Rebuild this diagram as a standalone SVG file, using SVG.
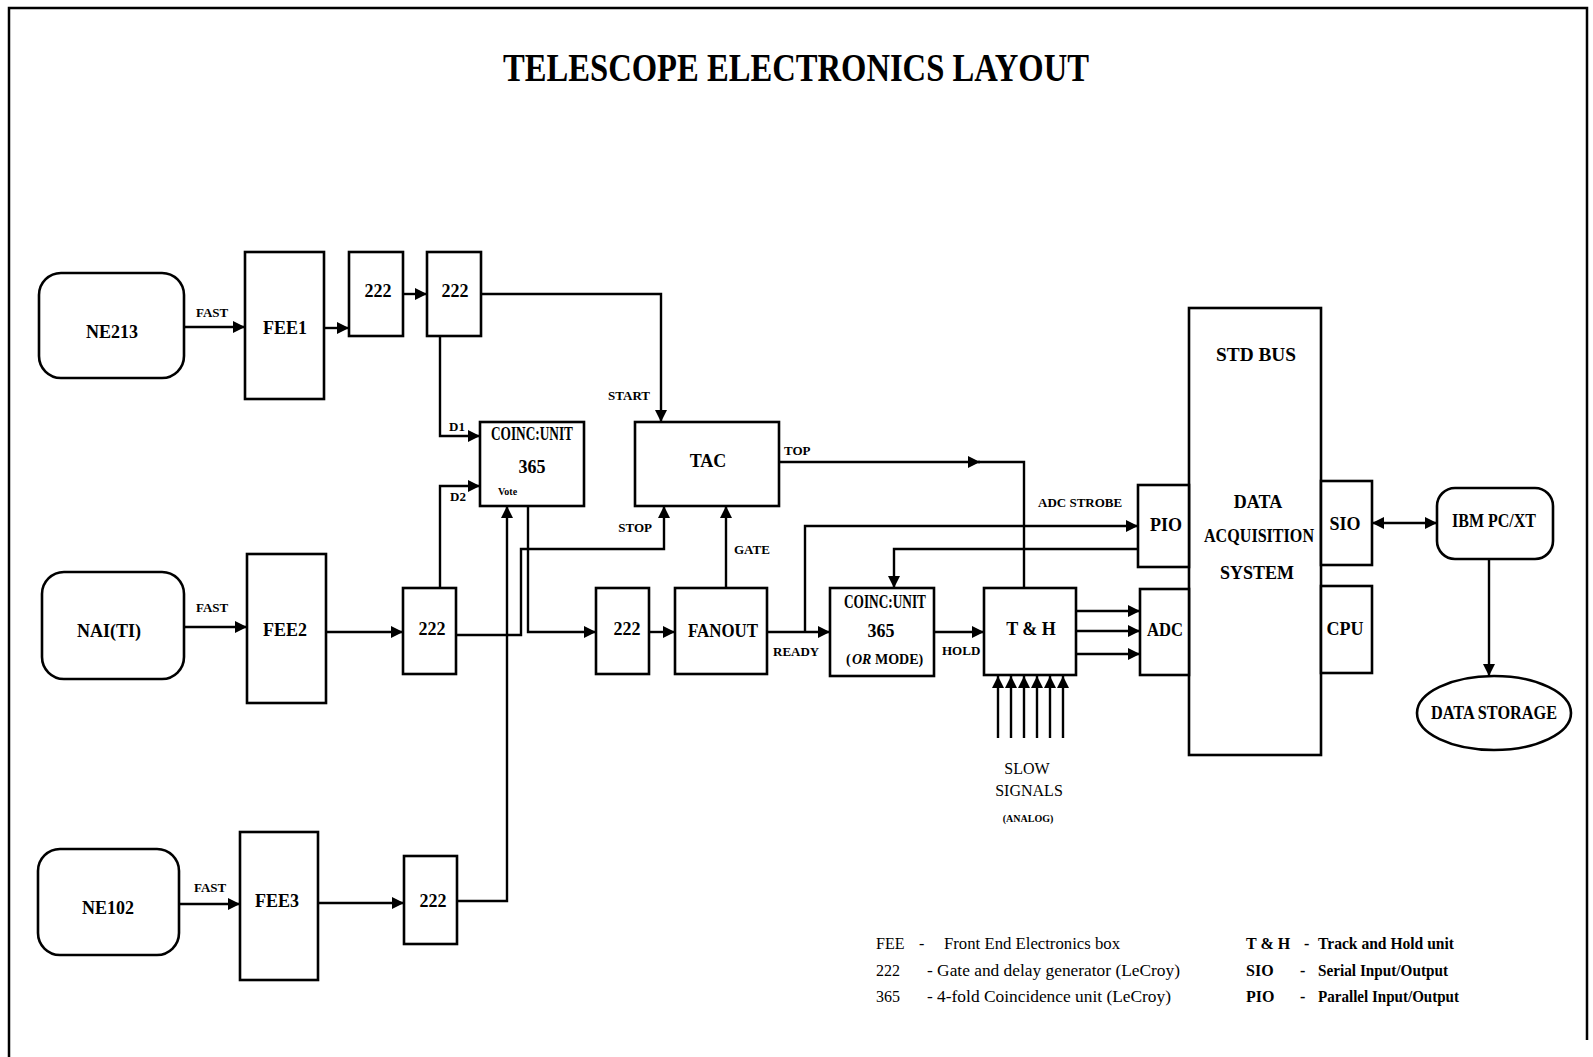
<svg xmlns="http://www.w3.org/2000/svg" width="1593" height="1057" viewBox="0 0 1593 1057">
<defs>
<marker id="arr" markerUnits="userSpaceOnUse" markerWidth="13" markerHeight="12" refX="12" refY="6" orient="auto-start-reverse">
<path d="M0,0 L12,6 L0,12 z" fill="#000"/>
</marker>
</defs>
<style>
.box{fill:#fff;stroke:#000;stroke-width:2.6}
.ln{fill:none;stroke:#000;stroke-width:2.4}
.a{marker-end:url(#arr)}
text{font-family:"Liberation Serif","Times New Roman",serif;fill:#000}
.n{font-size:18px;font-weight:bold;text-anchor:middle}
.s{font-size:13px;font-weight:bold}
.c{text-anchor:middle}
.lg{font-size:16px}
.lgb{font-size:16px;font-weight:bold}
</style>
<rect x="0" y="0" width="1593" height="1057" fill="#fff"/>
<g id="frame" class="ln">
<path d="M9,1057 L9,8 L1587,8 L1587,1040" style="stroke-width:2.5"/>
</g>
<text x="796" y="81" font-size="40" font-weight="bold" class="c" textLength="586" lengthAdjust="spacingAndGlyphs">TELESCOPE ELECTRONICS LAYOUT</text>

<g id="connectors">
<line class="ln a" x1="184" y1="327" x2="245" y2="327"/>
<line class="ln a" x1="324" y1="328" x2="349" y2="328"/>
<line class="ln a" x1="403" y1="294" x2="427" y2="294"/>
<path class="ln a" d="M481,294 L661,294 L661,422"/>
<path class="ln a" d="M440,336 L440,436 L480,436"/>
<line class="ln a" x1="184" y1="627" x2="247" y2="627"/>
<line class="ln a" x1="326" y1="632" x2="403" y2="632"/>
<path class="ln a" d="M440,588 L440,486 L480,486"/>
<path class="ln a" d="M456,635 L521,635 L521,549 L664,549 L664,506"/>
<line class="ln a" x1="179" y1="904" x2="240" y2="904"/>
<line class="ln a" x1="318" y1="903" x2="404" y2="903"/>
<path class="ln a" d="M457,901 L507,901 L507,506"/>
<path class="ln a" d="M528,506 L528,632 L596,632"/>
<line class="ln a" x1="649" y1="632" x2="675" y2="632"/>
<line class="ln a" x1="726" y1="588" x2="726" y2="506"/>
<line class="ln a" x1="767" y1="632" x2="830" y2="632"/>
<path class="ln a" d="M805,632 L805,526 L1138,526"/>
<path class="ln a" d="M1138,549 L894,549 L894,588"/>
<line class="ln a" x1="934" y1="632" x2="984" y2="632"/>
<line class="ln a" x1="779" y1="462" x2="980" y2="462"/>
<path class="ln" d="M978,462 L1024,462 L1024,588"/>
<line class="ln a" x1="1076" y1="611" x2="1140" y2="611"/>
<line class="ln a" x1="1076" y1="631" x2="1140" y2="631"/>
<line class="ln a" x1="1076" y1="654" x2="1140" y2="654"/>
<line class="ln a" x1="998" y1="738" x2="998" y2="676"/>
<line class="ln a" x1="1011" y1="738" x2="1011" y2="676"/>
<line class="ln a" x1="1024" y1="738" x2="1024" y2="676"/>
<line class="ln a" x1="1037" y1="738" x2="1037" y2="676"/>
<line class="ln a" x1="1050" y1="738" x2="1050" y2="676"/>
<line class="ln a" x1="1063" y1="738" x2="1063" y2="676"/>
<line class="ln" x1="1372" y1="523" x2="1437" y2="523" marker-start="url(#arr)" marker-end="url(#arr)"/>
<line class="ln a" x1="1489" y1="559" x2="1489" y2="676"/>
</g>

<g id="labels">
<text class="s" x="196" y="317">FAST</text>
<text class="s" x="196" y="612">FAST</text>
<text class="s" x="194" y="892">FAST</text>
<text class="s" x="650" y="400" text-anchor="end">START</text>
<text class="s" x="449" y="431">D1</text>
<text class="s" x="450" y="501">D2</text>
<text class="s" x="652" y="532" text-anchor="end">STOP</text>
<text class="s" x="734" y="554">GATE</text>
<text class="s" x="784" y="455">TOP</text>
<text class="s" x="773" y="656">READY</text>
<text class="s" x="942" y="655">HOLD</text>
<text class="s" x="1038" y="507">ADC STROBE</text>
<text x="1027" y="774" font-size="16" class="c">SLOW</text>
<text x="1029" y="796" font-size="16" class="c">SIGNALS</text>
<text x="1028" y="822" font-size="10" font-weight="bold" class="c">(ANALOG)</text>
</g>

<g id="ne213"><rect class="box" x="39" y="273" width="145" height="105" rx="22"/><text class="n" x="112" y="338" font-size="20">NE213</text></g>
<g id="fee1"><rect class="box" x="245" y="252" width="79" height="147"/><text class="n" x="285" y="334" font-size="16">FEE1</text></g>
<g id="d222a"><rect class="box" x="349" y="252" width="54" height="84"/><text class="n" x="378" y="297">222</text></g>
<g id="d222b"><rect class="box" x="427" y="252" width="54" height="84"/><text class="n" x="455" y="297">222</text></g>
<g id="coinc1"><rect class="box" x="480" y="422" width="104" height="84"/><text class="n" x="532" y="440" font-size="13" textLength="82" lengthAdjust="spacingAndGlyphs">COINC:UNIT</text><text class="n" x="532" y="473" font-size="17">365</text><text x="498" y="495" font-size="10" font-weight="bold">Vote</text></g>
<g id="tac"><rect class="box" x="635" y="422" width="144" height="84"/><text class="n" x="708" y="467" font-size="17">TAC</text></g>
<g id="nai"><rect class="box" x="42" y="572" width="142" height="107" rx="22"/><text class="n" x="109" y="637" font-size="20">NAI(TI)</text></g>
<g id="fee2"><rect class="box" x="247" y="554" width="79" height="149"/><text class="n" x="285" y="636" font-size="16">FEE2</text></g>
<g id="d222c"><rect class="box" x="403" y="588" width="53" height="86"/><text class="n" x="432" y="635">222</text></g>
<g id="d222d"><rect class="box" x="596" y="588" width="53" height="86"/><text class="n" x="627" y="635">222</text></g>
<g id="fanout"><rect class="box" x="675" y="588" width="92" height="86"/><text class="n" x="723" y="637" font-size="17" textLength="70" lengthAdjust="spacingAndGlyphs">FANOUT</text></g>
<g id="coinc2"><rect class="box" x="830" y="588" width="104" height="88"/><text class="n" x="885" y="608" font-size="13" textLength="82" lengthAdjust="spacingAndGlyphs">COINC:UNIT</text><text class="n" x="881" y="637" font-size="17">365</text><text x="846" y="664" font-size="14" font-weight="bold">(</text><text x="852" y="664" font-size="14" font-weight="bold" font-style="italic">OR</text><text x="875" y="664" font-size="14" font-weight="bold">MODE)</text></g>
<g id="th"><rect class="box" x="984" y="588" width="92" height="87"/><text class="n" x="1031" y="635" font-size="17">T &amp; H</text></g>
<g id="std"><rect class="box" x="1189" y="308" width="132" height="447"/><text class="n" x="1256" y="361" font-size="19" textLength="80" lengthAdjust="spacingAndGlyphs">STD BUS</text><text class="n" x="1258" y="508" font-size="16">DATA</text><text class="n" x="1259" y="542" font-size="16" textLength="110" lengthAdjust="spacingAndGlyphs">ACQUISITION</text><text class="n" x="1257" y="579" font-size="16">SYSTEM</text></g>
<g id="pio"><rect class="box" x="1138" y="485" width="51" height="82"/><text class="n" x="1166" y="531" font-size="16">PIO</text></g>
<g id="adc"><rect class="box" x="1140" y="589" width="49" height="86"/><text class="n" x="1165" y="636" font-size="16" textLength="36" lengthAdjust="spacingAndGlyphs">ADC</text></g>
<g id="sio"><rect class="box" x="1321" y="481" width="51" height="84"/><text class="n" x="1345" y="530" font-size="16">SIO</text></g>
<g id="cpu"><rect class="box" x="1321" y="586" width="51" height="87"/><text class="n" x="1345" y="635" font-size="16">CPU</text></g>
<g id="ibm"><rect class="box" x="1437" y="488" width="116" height="71" rx="18"/><text class="n" x="1494" y="527" font-size="16" textLength="84" lengthAdjust="spacingAndGlyphs">IBM PC/XT</text></g>
<g id="storage"><ellipse class="box" cx="1494" cy="713" rx="77" ry="37"/><text class="n" x="1494" y="719" font-size="16" textLength="126" lengthAdjust="spacingAndGlyphs">DATA STORAGE</text></g>
<g id="ne102"><rect class="box" x="38" y="849" width="141" height="106" rx="22"/><text class="n" x="108" y="914" font-size="20">NE102</text></g>
<g id="fee3"><rect class="box" x="240" y="832" width="78" height="148"/><text class="n" x="277" y="907" font-size="16">FEE3</text></g>
<g id="d222e"><rect class="box" x="404" y="856" width="53" height="88"/><text class="n" x="433" y="907">222</text></g>

<g id="legend">
<text class="lg" x="876" y="949">FEE</text><text class="lg" x="919" y="949">-</text><text class="lg" x="944" y="949" textLength="176" lengthAdjust="spacingAndGlyphs">Front End Electronics box</text>
<text class="lg" x="876" y="976">222</text><text class="lg" x="927" y="976" textLength="253" lengthAdjust="spacingAndGlyphs">- Gate and delay generator (LeCroy)</text>
<text class="lg" x="876" y="1002">365</text><text class="lg" x="927" y="1002" textLength="244" lengthAdjust="spacingAndGlyphs">- 4-fold Coincidence unit (LeCroy)</text>
<text class="lgb" x="1246" y="949">T &amp; H</text><text class="lgb" x="1304" y="949">-</text><text class="lgb" x="1318" y="949" textLength="136" lengthAdjust="spacingAndGlyphs">Track and Hold unit</text>
<text class="lgb" x="1246" y="976">SIO</text><text class="lgb" x="1300" y="976">-</text><text class="lgb" x="1318" y="976" textLength="130" lengthAdjust="spacingAndGlyphs">Serial Input/Output</text>
<text class="lgb" x="1246" y="1002">PIO</text><text class="lgb" x="1300" y="1002">-</text><text class="lgb" x="1318" y="1002" textLength="141" lengthAdjust="spacingAndGlyphs">Parallel Input/Output</text>
</g>
</svg>
